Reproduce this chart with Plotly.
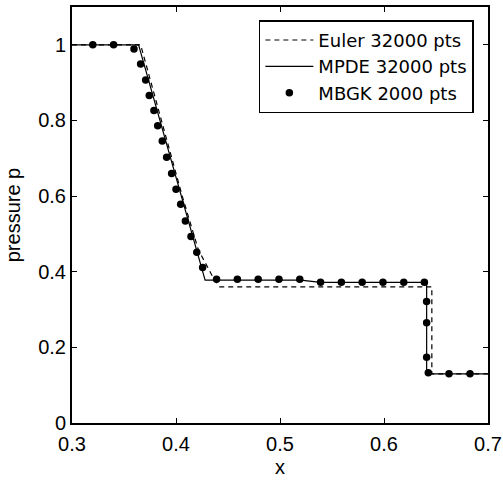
import plotly.graph_objects as go

# Euler 32000 pts (dashed)
euler_x = [0.3, 0.366, 0.406, 0.4215, 0.436, 0.442, 0.646, 0.646, 0.7]
euler_p = [1.0, 1.0, 0.6, 0.458, 0.383, 0.36, 0.36, 0.13, 0.13]

# MPDE 32000 pts (solid)
mpde_x = [0.3, 0.364, 0.428, 0.52, 0.539, 0.641, 0.641, 0.7]
mpde_p = [1.0, 1.0, 0.378, 0.378, 0.372, 0.372, 0.13, 0.13]

# MBGK 2000 pts (dots)
mbgk_x = [0.32, 0.34, 0.3596, 0.366, 0.3708, 0.3743, 0.3788, 0.3824, 0.3868,
          0.391, 0.3958, 0.400, 0.4045, 0.409, 0.4144, 0.420, 0.4256,
          0.439, 0.459, 0.479, 0.499, 0.519, 0.539, 0.559, 0.579, 0.599,
          0.619, 0.6388, 0.641, 0.641, 0.641, 0.6426, 0.6625, 0.6827]
mbgk_p = [1.0, 1.0, 0.989, 0.949, 0.907, 0.866, 0.826, 0.786, 0.746,
          0.703, 0.660, 0.618, 0.5785, 0.534, 0.493, 0.4515, 0.411,
          0.380, 0.380, 0.380, 0.380, 0.380, 0.372, 0.372, 0.372, 0.372,
          0.372, 0.372, 0.321, 0.265, 0.174, 0.133, 0.13, 0.13]

x_ticks = [0.3, 0.4, 0.5, 0.6, 0.7]
x_tick_labels = ["0.3", "0.4", "0.5", "0.6", "0.7"]
y_ticks = [0, 0.2, 0.4, 0.6, 0.8, 1.0]
y_tick_labels = ["0", "0.2", "0.4", "0.6", "0.8", "1"]

FONT = "Liberation Sans, Arial, sans-serif"
LEG_FONT = "DejaVu Sans, Liberation Sans, sans-serif"
FS = 20

fig = go.Figure()
fig.add_trace(go.Scatter(x=euler_x, y=euler_p, mode="lines", name="Euler 32000 pts",
                         line=dict(color="black", width=1.2, dash="5px,4px")))
fig.add_trace(go.Scatter(x=mpde_x, y=mpde_p, mode="lines", name="MPDE 32000 pts",
                         line=dict(color="black", width=1.2)))
fig.add_trace(go.Scatter(x=mbgk_x, y=mbgk_p, mode="markers", name="MBGK 2000 pts",
                         marker=dict(color="black", size=7.5)))

axis_common = dict(showline=True, linecolor="black", linewidth=2, mirror="ticks",
                   ticks="inside", ticklen=5, tickwidth=1, tickcolor="black",
                   showgrid=False, zeroline=False,
                   tickfont=dict(family=FONT, size=FS, color="black"))

fig.update_xaxes(range=[0.3, 0.7], tickvals=x_ticks, ticktext=x_tick_labels,
                 ticklabelstandoff=2,
                 title=dict(text="x", font=dict(family=FONT, size=FS, color="black"), standoff=6),
                 **axis_common)
fig.update_yaxes(range=[0, 1.1], tickvals=y_ticks, ticktext=y_tick_labels,
                 title=dict(text="pressure p", font=dict(family=FONT, size=FS, color="black"), standoff=12),
                 **axis_common)

fig.update_layout(
    width=503, height=482,
    margin=dict(l=72, r=15, t=7, b=59, autoexpand=False),
    plot_bgcolor="white", paper_bgcolor="white",
    font=dict(family=FONT, size=FS, color="black"),
    legend=dict(x=0.966, y=0.968, xanchor="right", yanchor="top",
                bgcolor="white", bordercolor="black", borderwidth=1.5,
                font=dict(family=LEG_FONT, size=18, color="black"),
                tracegroupgap=0, itemwidth=48),
    showlegend=True,
)

fig.write_html("out.html", config={"displayModeBar": False},
               post_script="document.body.style.margin='0';")
